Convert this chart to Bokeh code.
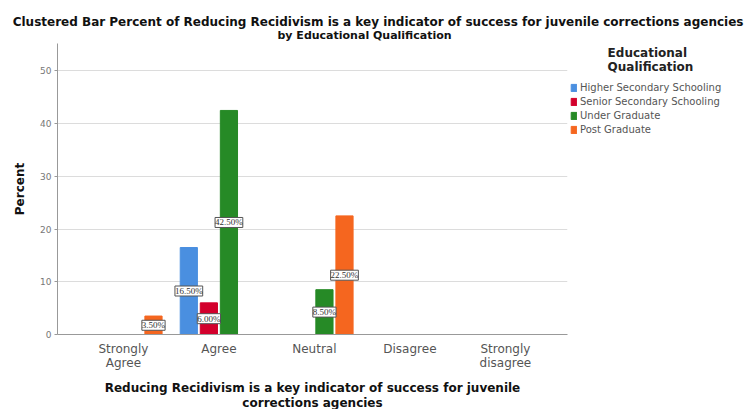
from bokeh.plotting import figure
from bokeh.models import (ColumnDataSource, Range1d, FixedTicker, LabelSet, Title,
                          Legend, LegendItem)
from bokeh.embed import file_html
from bokeh.resources import INLINE

categories = ["Strongly\nAgree", "Agree", "Neutral", "Disagree", "Strongly\ndisagree"]
series_names = ["Higher Secondary Schooling", "Senior Secondary Schooling",
                "Under Graduate", "Post Graduate"]
higher_secondary = [0, 16.5, 0, 0, 0]
senior_secondary = [0, 6.0, 0, 0, 0]
under_graduate = [0, 42.5, 8.5, 0, 0]
post_graduate = [3.5, 0, 22.5, 0, 0]
y_ticks = [0, 10, 20, 30, 40, 50]
title_lines = ["Clustered Bar Percent of Reducing Recidivism is a key indicator of success for juvenile corrections agencies",
               "by Educational Qualification"]
x_title = "Reducing Recidivism is a key indicator of success for juvenile\ncorrections agencies"
y_title = "Percent"
legend_title_lines = ["Educational", "Qualification"]

colors = ["#4a8fe0", "#d3002c", "#268a26", "#f5661f"]
offsets = [-0.315, -0.105, 0.105, 0.315]
FONT = "DejaVu Sans"

L, R, T, B = 57, 567, 43, 334
W, H = 745, 409

p = figure(frame_width=R - L, frame_height=B - T, output_backend="svg",
           toolbar_location=None,
           x_range=Range1d(-0.69, 4.65), y_range=Range1d(0, 55.2),
           min_border_left=L, min_border_right=W - R, min_border_top=T,
           min_border_bottom=H - B)
p.outline_line_color = None
p.xgrid.grid_line_color = None
p.ygrid.grid_line_color = "#dcdcdc"
p.ygrid.ticker = FixedTicker(ticks=y_ticks)

all_series = [higher_secondary, senior_secondary, under_graduate, post_graduate]
items = []
for s, (vals, col, off, name) in enumerate(zip(all_series, colors, offsets, series_names)):
    xs = [i + off for i, v in enumerate(vals) if v > 0]
    ys = [v for v in vals if v > 0]
    src = ColumnDataSource(dict(x=xs, top=ys, mid=[v / 2 for v in ys],
                                lab=["%.2f%%" % v for v in ys]))
    r = p.vbar(x="x", top="top", width=0.18, source=src, fill_color=col,
               line_color=col)
    items.append(LegendItem(label=name, renderers=[r]))
    ls = LabelSet(x="x", y="mid", text="lab", source=src, text_align="center",
                  text_baseline="middle", text_font_size="9px", text_font=FONT,
                  text_color="#333333", background_fill_color="white",
                  border_line_color="#555555", border_line_width=1)
    p.add_layout(ls)

# axes
p.xaxis.ticker = FixedTicker(ticks=list(range(len(categories))))
p.xaxis.major_label_overrides = {i: c for i, c in enumerate(categories)}
p.xaxis.major_tick_line_color = None
p.xaxis.minor_tick_line_color = None
p.xaxis.axis_line_color = "#999999"
p.xaxis.major_label_text_font = FONT
p.xaxis.major_label_text_font_size = "12px"
p.xaxis.major_label_text_line_height = 1.05
p.xaxis.major_label_text_color = "#555555"
p.xaxis.major_label_standoff = 1
p.xaxis.axis_label = x_title
p.xaxis.axis_label_text_font = FONT
p.xaxis.axis_label_text_font_style = "bold"
p.xaxis.axis_label_text_font_size = "12px"
p.xaxis.axis_label_text_line_height = 1.05
p.xaxis.axis_label_text_color = "#111111"
p.xaxis.axis_label_standoff = 8

p.yaxis.ticker = FixedTicker(ticks=y_ticks)
p.yaxis.minor_tick_line_color = None
p.yaxis.axis_line_color = "#999999"
p.yaxis.major_tick_line_color = "#999999"
p.yaxis.major_tick_out = 3
p.yaxis.major_tick_in = 0
p.yaxis.major_label_standoff = 3
p.yaxis.major_label_text_font = FONT
p.yaxis.major_label_text_font_size = "9px"
p.yaxis.major_label_text_color = "#777777"
p.yaxis.axis_label = y_title
p.yaxis.axis_label_text_font = FONT
p.yaxis.axis_label_text_font_style = "bold"
p.yaxis.axis_label_text_font_size = "12px"
p.yaxis.axis_label_text_color = "#111111"
p.yaxis.axis_label_standoff = 10

# titles: line 1 right edge at x=743, line 2 left edge at x=277
p.title.text = title_lines[0]
p.title.align = "right"
p.title.offset = -(743 - R)
p.title.text_font = FONT
p.title.text_font_size = "12px"
p.title.text_font_style = "bold"
p.title.text_color = "#111111"
p.title.standoff = -7
t2 = Title(text=title_lines[1], align="left", offset=277 - L,
           text_font=FONT, text_font_size="11px", text_font_style="bold",
           text_color="#111111", standoff=3)
p.add_layout(t2, "above")

# legend title is indented so that it sits centred above the entries
pad = "\u00a0" * 9
legend = Legend(items=items, location="top_left",
                title="\n".join(pad + t for t in legend_title_lines),
                title_text_font=FONT, title_text_font_size="12px",
                title_text_font_style="bold", title_text_color="#222222",
                title_text_line_height=1.05,
                title_standoff=6,
                label_text_font=FONT, label_text_font_size="10px",
                label_text_color="#555555", glyph_width=7, glyph_height=9,
                label_height=14, spacing=0, padding=0, margin=3,
                label_standoff=3, border_line_color=None,
                background_fill_alpha=0)
p.add_layout(legend, "right")

open("out.html", "w").write(file_html(p, INLINE))
